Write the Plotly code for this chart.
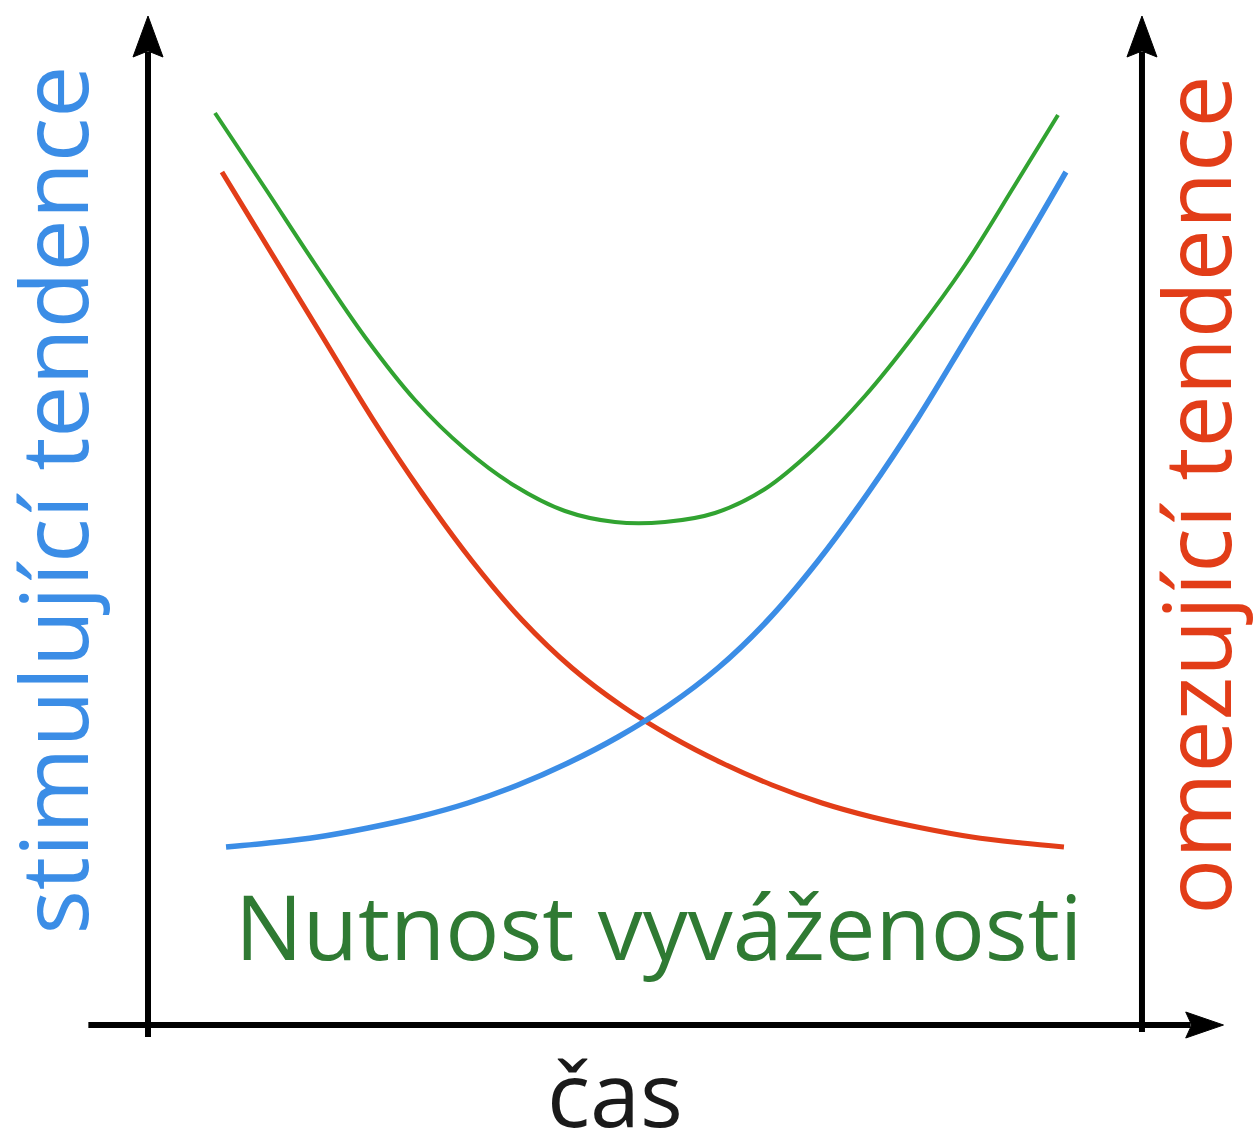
import plotly.graph_objects as go

# Time axis: 0 = left (stimulating) axis, 10 = right (restraining) axis
# Value axis: 0 = time axis baseline

# Restraining tendencies (red) - fall over time
red_t = [0.744, 1.247, 1.751, 2.254, 2.757, 3.260, 3.763, 4.266, 4.769, 5.272,
         5.775, 6.278, 6.781, 7.284, 7.787, 8.290, 8.793, 9.215]
red_v = [8.53, 7.71, 6.89, 6.07, 5.32, 4.64, 4.05, 3.57, 3.19, 2.88,
         2.62, 2.40, 2.22, 2.08, 1.97, 1.88, 1.82, 1.78]

# Stimulating tendencies (blue) - rise over time
blue_t = [0.785, 1.207, 1.710, 2.213, 2.716, 3.219, 3.722, 4.225, 4.728, 5.231,
          5.734, 6.237, 6.740, 7.243, 7.746, 8.249, 8.753, 9.235]
blue_v = [1.78, 1.82, 1.88, 1.97, 2.08, 2.22, 2.40, 2.62, 2.88, 3.19,
          3.57, 4.05, 4.64, 5.32, 6.07, 6.89, 7.71, 8.53]

# Need for balance (green) - U-shaped
green_t = [0.674, 1.177, 1.680, 2.183, 2.686, 3.189, 3.692, 4.195, 4.698, 5.201,
           5.704, 6.207, 6.710, 7.213, 7.716, 8.219, 8.722, 9.155]
green_v = [9.12, 8.37, 7.61, 6.88, 6.25, 5.76, 5.39, 5.14, 5.03, 5.03,
           5.12, 5.36, 5.77, 6.29, 6.91, 7.60, 8.40, 9.10]

label_left = "stimulující tendence"
label_right = "omezující tendence"
label_mid = "Nutnost vyváženosti"
label_time = "čas"

BLUE = "#3b8de6"
RED = "#e23d18"
GREEN = "#31a331"
GREEN_TEXT = "#2f7a33"
FONT = "Open Sans"

W, H = 1254, 1134
# visible data window
X_RANGE = [-1.489, 11.127]
Y_RANGE = [-1.09, 10.25]

fig = go.Figure()
fig.add_trace(go.Scatter(x=green_t, y=green_v, mode="lines",
                         line=dict(color=GREEN, width=4, shape="spline", smoothing=1.0),
                         hoverinfo="skip"))
fig.add_trace(go.Scatter(x=red_t, y=red_v, mode="lines",
                         line=dict(color=RED, width=5, shape="spline", smoothing=1.0),
                         hoverinfo="skip"))
fig.add_trace(go.Scatter(x=blue_t, y=blue_v, mode="lines",
                         line=dict(color=BLUE, width=5.5, shape="spline", smoothing=1.0),
                         hoverinfo="skip"))

# Axis geometry (data units)
LEFT_X, RIGHT_X = 0.0, 10.0
ARROW_BASE_Y, ARROW_TIP_Y = 9.68, 10.09
ARROW_HALF_W = 0.151
H_START, H_BASE, H_TIP = -0.60, 10.44, 10.82
H_HALF = 0.13
AXIS_W = 6

shapes = [
    dict(type="line", x0=LEFT_X, x1=LEFT_X, y0=-0.12, y1=ARROW_BASE_Y + 0.05,
         line=dict(color="black", width=AXIS_W)),
    dict(type="line", x0=RIGHT_X, x1=RIGHT_X, y0=-0.07, y1=ARROW_BASE_Y + 0.05,
         line=dict(color="black", width=AXIS_W)),
    dict(type="line", x0=H_START, x1=H_BASE + 0.05, y0=0, y1=0,
         line=dict(color="black", width=AXIS_W)),
]


def up_arrow(xc):
    return (f"M {xc},{ARROW_TIP_Y} L {xc + ARROW_HALF_W},{ARROW_BASE_Y} "
            f"L {xc},{ARROW_BASE_Y + 0.06} L {xc - ARROW_HALF_W},{ARROW_BASE_Y} Z")


right_arrow = (f"M {H_TIP},0 L {H_BASE},{H_HALF} L {H_BASE + 0.06},0 "
               f"L {H_BASE},{-H_HALF} Z")

for p in (up_arrow(LEFT_X), up_arrow(RIGHT_X), right_arrow):
    shapes.append(dict(type="path", path=p, fillcolor="black",
                       line=dict(color="black", width=1)))

annotations = [
    dict(x=-0.97, y=5.25, text=label_left, textangle=-90, showarrow=False,
         xanchor="center", yanchor="middle",
         font=dict(family=FONT, size=93, color=BLUE)),
    dict(x=10.53, y=5.30, text=label_right, textangle=-90, showarrow=False,
         xanchor="center", yanchor="middle",
         font=dict(family=FONT, size=93, color=RED)),
    dict(x=0.86, y=1.00, text=label_mid, showarrow=False,
         xanchor="left", yanchor="middle",
         font=dict(family=FONT, size=90, color=GREEN_TEXT)),
    dict(x=4.70, y=-0.67, text=label_time, showarrow=False,
         xanchor="center", yanchor="middle",
         font=dict(family=FONT, size=90, color="#1a1a1a")),
]

fig.update_layout(
    width=W, height=H,
    margin=dict(l=0, r=0, t=0, b=0),
    paper_bgcolor="white", plot_bgcolor="white",
    showlegend=False,
    xaxis=dict(range=X_RANGE, visible=False, fixedrange=True),
    yaxis=dict(range=Y_RANGE, visible=False, fixedrange=True),
    shapes=shapes,
    annotations=annotations,
)

fig.write_html("out.html", config={"displayModeBar": False})
